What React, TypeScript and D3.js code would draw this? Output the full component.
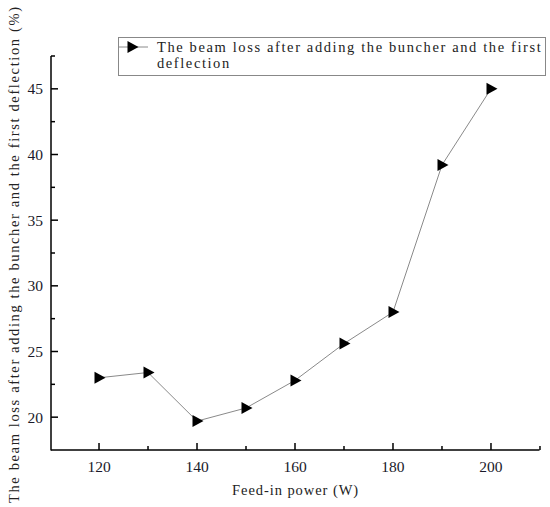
import React from "react";
import * as d3 from "d3";

const powers = [120, 130, 140, 150, 160, 170, 180, 190, 200];
const beamLoss = [23.0, 23.4, 19.7, 20.7, 22.8, 25.6, 28.0, 39.2, 45.0];
const xTicks = [120, 140, 160, 180, 200];
const xMinorTicks = [130, 150, 170, 190, 210];
const yTicks = [20, 25, 30, 35, 40, 45];
const yMinorTicks = [22.5, 27.5, 32.5, 37.5, 42.5, 47.5];
const legendLines = ["The beam loss after adding the buncher and the first", "deflection"];
const xTitle = "Feed-in power (W)";
const yTitle = "The beam loss after adding the buncher and the first deflection (%)";

const W = 550, H = 507;
const left = 51, right = 539, top = 56, bottom = 450;
const serifFont = "'Liberation Serif', 'DejaVu Serif', 'Times New Roman', serif";
const CH = 7.42; // per-character advance of the reference's monospaced serif text

function tri(cx: number, cy: number) {
  return `M${cx - 4.5},${cy - 6}L${cx + 6.5},${cy}L${cx - 4.5},${cy + 6}Z`;
}

const monoStyle: React.CSSProperties = { fontFamily: serifFont, fontSize: "14.5px" };

export default function App() {
  const x = d3.scaleLinear().domain([110.2, 209.8]).range([left, right]);
  const y = d3.scaleLinear().domain([17.5, 47.5]).range([bottom, top]);
  const line = d3.line<number>().x((_, i) => x(powers[i])).y((d) => y(d));

  return (
    <svg width={W} height={H} style={{ position: "absolute", left: 0, top: 0, background: "#fff" }}>
      <rect x={0} y={0} width={W} height={H} fill="#fff" />
      {/* axes */}
      <line x1={left} x2={left} y1={top} y2={bottom + 0.5} stroke="#000" strokeWidth={1.5} />
      <line x1={left} x2={right + 0.5} y1={bottom} y2={bottom} stroke="#000" strokeWidth={1.5} />
      {xTicks.map((t) => (
        <g key={"xt" + t}>
          <line x1={x(t)} x2={x(t)} y1={bottom} y2={bottom - 7} stroke="#000" strokeWidth={1.5} />
          <text x={x(t)} y={bottom + 22} textAnchor="middle" style={{ fontFamily: serifFont, fontSize: "15.5px" }} fill="#1a1a2a">{t}</text>
        </g>
      ))}
      {xMinorTicks.map((t) => (
        <line key={"xm" + t} x1={x(t)} x2={x(t)} y1={bottom} y2={bottom - 4} stroke="#000" strokeWidth={1.5} />
      ))}
      {yTicks.map((t) => (
        <g key={"yt" + t}>
          <line x1={left} x2={left + 7} y1={y(t)} y2={y(t)} stroke="#000" strokeWidth={1.5} />
          <text x={left - 8} y={y(t) + 5.5} textAnchor="end" style={{ fontFamily: serifFont, fontSize: "15.5px" }} fill="#1a1a2a">{t}</text>
        </g>
      ))}
      {yMinorTicks.map((t) => (
        <line key={"ym" + t} x1={left} x2={left + 4} y1={y(t)} y2={y(t)} stroke="#000" strokeWidth={1.5} />
      ))}
      {/* data */}
      <path d={line(beamLoss) || ""} fill="none" stroke="#8a8a8a" strokeWidth={1} />
      {beamLoss.map((v, i) => (
        <path key={"m" + i} d={tri(x(powers[i]), y(v))} fill="#000" />
      ))}
      {/* axis titles */}
      <text x={232} y={495} textLength={xTitle.length * CH} lengthAdjust="spacing" style={monoStyle} fill="#222">{xTitle}</text>
      <text transform={`translate(19,503) rotate(-90)`} textLength={496} lengthAdjust="spacing" style={monoStyle} fill="#222">{yTitle}</text>
      {/* legend */}
      <rect x={118.5} y={37.5} width={427} height={38} fill="#fff" stroke="#888" strokeWidth={1} />
      <line x1={119} x2={148} y1={47} y2={47} stroke="#8a8a8a" strokeWidth={1} />
      <path d={tri(132, 47)} fill="#000" />
      {legendLines.map((l, i) => (
        <text key={"lg" + i} x={157} y={52 + i * 16} textLength={l.length * CH - 2} lengthAdjust="spacing" style={monoStyle} fill="#222">{l}</text>
      ))}
    </svg>
  );
}
